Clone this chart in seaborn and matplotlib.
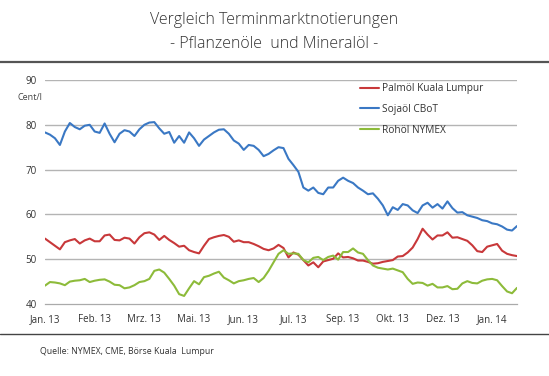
import numpy as np
import pandas as pd
import seaborn as sns
import matplotlib.pyplot as plt

# weekly quotes in Cent/l, Jan. 2013 - Jan. 2014
palmoel = [54.6, 53.8, 53.0, 52.2, 53.8, 54.2, 54.5, 53.5, 54.2, 54.6,
           54.0, 54.0, 55.3, 55.5, 54.3, 54.2, 54.8, 54.6, 53.5, 54.9,
           55.8, 56.0, 55.5, 54.3, 55.2, 54.3, 53.6, 52.8, 53.0, 52.0,
           51.6, 51.3, 53.0, 54.5, 54.9, 55.2, 55.4, 55.0, 53.9, 54.2,
           53.8, 53.8, 53.4, 52.9, 52.3, 52.0, 52.4, 53.2, 52.5, 50.4,
           51.5, 51.0, 49.8, 48.6, 49.3, 48.2, 49.5, 49.8, 50.1, 51.3,
           50.4, 50.5, 50.2, 49.7, 49.7, 49.4, 49.0, 49.1, 49.4, 49.6,
           49.8, 50.6, 50.7, 51.5, 52.6, 54.5, 56.8, 55.5, 54.4, 55.3,
           55.3, 56.0, 54.8, 54.9, 54.5, 54.1, 53.1, 51.8, 51.6, 52.8,
           53.1, 53.4, 51.9, 51.2, 50.9, 50.7]
sojaoel = [78.3, 77.8, 77.0, 75.5, 78.5, 80.4, 79.5, 79.0, 79.8, 80.0,
           78.5, 78.2, 80.3, 78.0, 76.1, 78.0, 78.8, 78.5, 77.5, 79.0,
           80.0, 80.5, 80.6, 79.2, 78.0, 78.4, 76.0, 77.5, 76.0, 78.3,
           77.0, 75.3, 76.7, 77.5, 78.3, 78.9, 79.0, 78.0, 76.5, 75.8,
           74.4, 75.5, 75.3, 74.4, 73.0, 73.5, 74.3, 75.0, 74.8, 72.4,
           71.0, 69.5, 66.0, 65.3, 66.0, 64.8, 64.5, 66.0, 66.0, 67.5,
           68.2, 67.5, 67.0, 66.0, 65.3, 64.5, 64.7, 63.5, 62.0, 59.8,
           61.6, 61.0, 62.3, 62.0, 60.9, 60.3, 62.0, 62.6, 61.5, 62.3,
           61.3, 62.9, 61.4, 60.4, 60.5, 59.8, 59.5, 59.2, 58.7, 58.5,
           58.0, 57.8, 57.3, 56.6, 56.4, 57.4]
rohoel = [44.1, 44.9, 44.8, 44.6, 44.2, 45.0, 45.2, 45.3, 45.6, 44.9,
          45.2, 45.4, 45.5, 45.0, 44.3, 44.2, 43.5, 43.7, 44.2, 44.9,
          45.1, 45.6, 47.4, 47.7, 47.0, 45.6, 44.1, 42.2, 41.8, 43.5,
          45.1, 44.4, 46.0, 46.3, 46.8, 47.2, 45.9, 45.3, 44.6, 45.1,
          45.3, 45.6, 45.8, 44.9, 45.8, 47.4, 49.3, 51.2, 52.0, 51.2,
          51.3, 51.2, 49.8, 49.3, 50.3, 50.5, 49.8, 50.5, 50.8, 49.9,
          51.6, 51.6, 52.4, 51.5, 51.2, 49.8, 48.6, 48.1, 47.9, 47.7,
          47.9, 47.5, 47.1, 45.6, 44.5, 44.8, 44.7, 44.1, 44.5, 43.7,
          43.7, 44.0, 43.3, 43.4, 44.6, 45.1, 44.7, 44.6, 45.2, 45.5,
          45.6, 45.3, 44.0, 42.8, 42.4, 43.6]

tick_labels = ["Jan. 13", "Feb. 13", "Mrz. 13", "Mai. 13", "Jun. 13",
               "Jul. 13", "Sep. 13", "Okt. 13", "Dez. 13", "Jan. 14"]
series_names = ["Palmöl Kuala Lumpur", "Sojaöl CBoT", "Rohöl NYMEX"]
colors = ["#c8383a", "#3a78c4", "#8dbb3a"]

n = len(palmoel)
df = pd.DataFrame({
    "woche": list(range(n)) * 3,
    "wert": palmoel + sojaoel + rohoel,
    "serie": [series_names[0]] * n + [series_names[1]] * n + [series_names[2]] * n,
})

sns.set_style("white")
plt.rcParams["font.family"] = ["Open Sans", "DejaVu Sans"]

fig = plt.figure(figsize=(5.49, 3.76), dpi=100)
ax = fig.add_axes([45 / 549, 1 - 304 / 376, 472 / 549, 224 / 376])

sns.lineplot(data=df, x="woche", y="wert", hue="serie", palette=colors,
             linewidth=1.5, ax=ax)

ax.set_xlim(0, n - 1)
ax.set_ylim(40, 90)
ax.set_yticks([40, 50, 60, 70, 80, 90])
ax.set_yticklabels(["40", "50", "60", "70", "80", "90"], fontsize=7, color="#333333")
ax.set_xticks(np.arange(0, 91, 10))
ax.set_xticklabels(tick_labels, fontsize=7, color="#333333")
ax.tick_params(axis="y", length=0, pad=6)
ax.tick_params(axis="x", length=3, width=0.8, color="#aaaaaa", pad=4, direction="out")
ax.set_xlabel("")
ax.set_ylabel("")

for v in [50, 60, 70, 80, 90]:
    ax.axhline(v, color="#b4b4b4", lw=1.0, zorder=0)

for s in ["top", "right", "left"]:
    ax.spines[s].set_visible(False)
ax.spines["bottom"].set_color("#aaaaaa")
ax.spines["bottom"].set_linewidth(0.9)

leg = ax.legend(loc="upper left", bbox_to_anchor=(315 / 472, 0.985), frameon=False,
                fontsize=7.3, handlelength=1.9, handletextpad=0.25, labelspacing=0.95,
                borderpad=0, borderaxespad=0)
for t in leg.get_texts():
    t.set_color("#333333")

fig.text(18 / 549, 1 - 98 / 376, "Cent/l", fontsize=6.5, color="#444444", va="center")

fig.text(0.5, 1 - 20 / 376, "Vergleich Terminmarktnotierungen", ha="center", va="center",
         fontsize=11.5, color="#333333", fontweight="light")
fig.text(0.5, 1 - 44 / 376, "- Pflanzenöle  und Mineralöl -", ha="center", va="center",
         fontsize=11.5, color="#333333", fontweight="light")

fig.add_artist(plt.Line2D([0, 1], [1 - 62 / 376, 1 - 62 / 376], color="#555555", lw=1.6,
                          transform=fig.transFigure))
fig.add_artist(plt.Line2D([0, 1], [1 - 334 / 376, 1 - 334 / 376], color="#444444", lw=1.0,
                          transform=fig.transFigure))

fig.text(40 / 549, 1 - 352 / 376, "Quelle: NYMEX, CME, Börse Kuala  Lumpur", fontsize=6.3,
         color="#333333", va="center")

fig.savefig("out.png", dpi=100)
